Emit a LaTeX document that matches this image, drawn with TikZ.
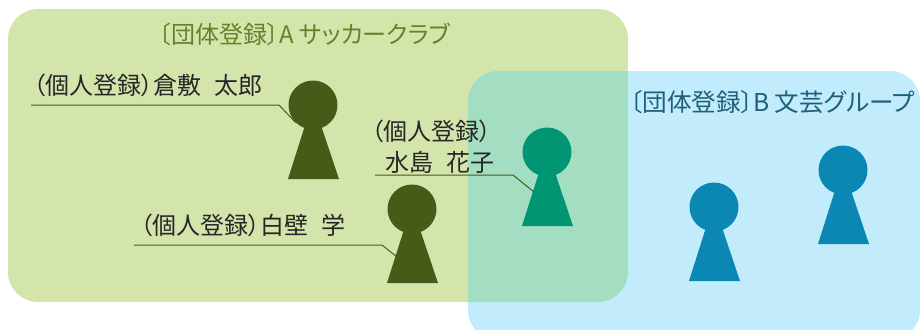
\documentclass[tikz,border=0pt]{standalone}
\usepackage{fontspec}
\newfontfamily\jp[RawFeature={+palt}]{Noto Sans CJK JP}
\definecolor{grpA}{HTML}{D4E5AC}
\definecolor{grpB}{HTML}{C2ECFB}
\definecolor{grpAB}{HTML}{A4DEC2}
\definecolor{dark}{HTML}{475B18}
\definecolor{teal}{HTML}{009673}
\definecolor{blu}{HTML}{0A88B3}
\definecolor{titA}{HTML}{6B7F2A}
\definecolor{titB}{HTML}{1F5F7A}
\tikzset{
 head/.style={circle,draw=none,fill=#1,minimum size=49pt,inner sep=0pt},
 lead/.style={draw=dark,line width=1pt},
 lab/.style={inner sep=0pt,font=\jp\fontsize{24}{28}\selectfont,text=black!85,anchor=west},
}
\newcommand{\person}[4]{% name, x, y(head), colour
 \node[head=#4] (#1) at (#2,#3) {};
 \fill[#4] (#2-8.5,#3+22) -- (#2+8.5,#3+22) -- (#2+26,#3+74) -- (#2-25,#3+74) -- cycle;
}
\begin{document}
\begin{tikzpicture}[x=1pt,y=-1pt]
\useasboundingbox (0,0) rectangle (920,329);
\clip (0,0) rectangle (920,329);
\fill[grpA,rounded corners=30pt] (8,9) rectangle (628,302);
\fill[grpB,rounded corners=30pt] (468,71) rectangle (920,340);
\begin{scope}
 \clip[rounded corners=30pt] (8,9) rectangle (628,302);
 \fill[grpAB,rounded corners=30pt] (468,71) rectangle (920,340);
\end{scope}
\node[lab,text=titA] (tA) at (159,34) {〔団体登録〕A サッカークラブ};
\node[lab,text=titB,font=\jp\fontsize{24.6}{28}\selectfont] (tB) at (630,102) {〔団体登録〕B 文芸グループ};
\node[lab] (l1) at (33,85) {（個人登録）倉敷\hspace{13pt}太郎};
\node[lab] (l2) at (371,131) {（個人登録）};
\node[lab] (l2b) at (385,162) {水島\hspace{13pt}花子};
\node[lab] (l3) at (140,225) {（個人登録）白壁\hspace{13pt}学};
\person{p1}{313}{105}{dark}
\person{p2}{412}{209}{dark}
\person{p3}{547}{152}{teal}
\person{p4}{714}{207}{blu}
\person{p5}{843}{170}{blu}
\coordinate (a1) at (31,105); \coordinate (b1) at (279,105); \coordinate (e1) at (p1.225);
\coordinate (a2) at (134,245); \coordinate (b2) at (382,245); \coordinate (e2) at (397,257);
\coordinate (a3) at (375,175); \coordinate (b3) at (513,175); \coordinate (e3) at (534,192);
\draw[lead] (a1) -- (b1) -- (e1);
\draw[lead] (a2) -- (b2) -- (e2);
\draw[lead] (a3) -- (b3) -- (e3);
\end{tikzpicture}
\end{document}
